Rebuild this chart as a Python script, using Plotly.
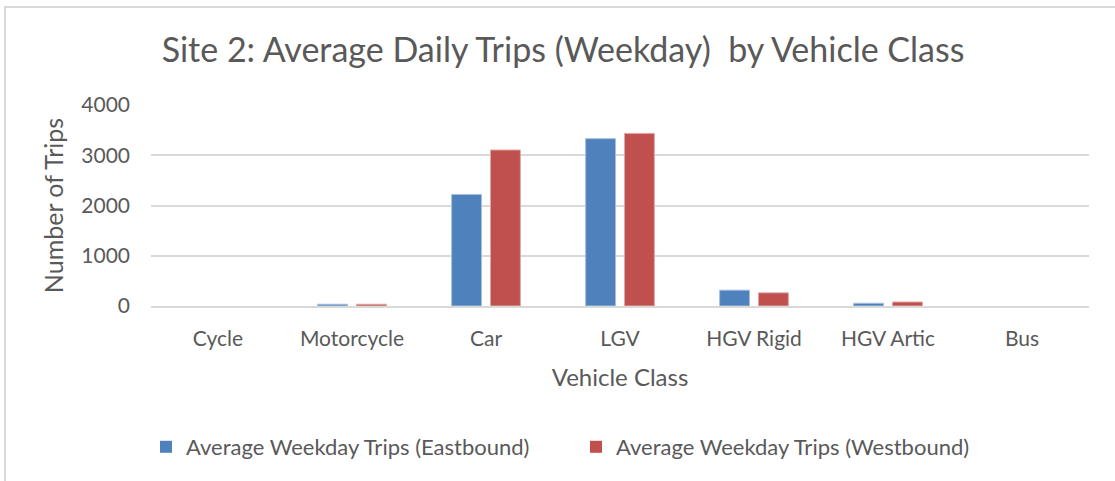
import plotly.graph_objects as go

categories = ["Cycle", "Motorcycle", "Car", "LGV", "HGV Rigid", "HGV Artic", "Bus"]
eastbound = [0, 35, 2220, 3330, 315, 55, 0]
westbound = [0, 35, 3105, 3435, 262, 80, 0]
series_names = ["Average Weekday Trips (Eastbound)", "Average Weekday Trips (Westbound)"]
y_ticks = [0, 1000, 2000, 3000, 4000]

W, H = 1115, 481
L, R, T, B = 151, 26, 105, 175
pw, ph = W - L - R, H - T - B

def px_x(p):
    return (p - L) / pw

def px_y(p):
    return (H - B - p) / ph

FONT = "Lato, Carlito, Calibri, sans-serif"
GREY = "#595959"

def outline(vals):
    return [0 if v == 0 else 1 for v in vals]

fig = go.Figure()
fig.add_trace(go.Bar(x=categories, y=eastbound, name=series_names[0],
                     marker=dict(color="#4F81BD",
                                 line=dict(color="#A7BFDE", width=outline(eastbound)))))
fig.add_trace(go.Bar(x=categories, y=westbound, name=series_names[1],
                     marker=dict(color="#C0504D",
                                 line=dict(color="#E0A8A6", width=outline(westbound)))))

fig.update_layout(
    width=W, height=H,
    margin=dict(l=L, r=R, t=T, b=B, autoexpand=False),
    paper_bgcolor="white", plot_bgcolor="white",
    barmode="group", bargap=0.42, bargroupgap=0.23,
    font=dict(family=FONT, color=GREY, size=18),
    title=dict(text="Site 2: Average Daily Trips (Weekday)  by Vehicle Class",
               x=0.505, xref="container", xanchor="center",
               y=1 - 50 / H, yref="container", yanchor="middle",
               font=dict(size=34, color=GREY, family=FONT)),
    legend=dict(orientation="h", x=px_x(576), xanchor="center",
                y=px_y(447), yanchor="middle",
                font=dict(size=22, color=GREY, family=FONT),
                itemwidth=30, traceorder="normal", entrywidth=385),
    showlegend=True,
)
fig.update_xaxes(
    showgrid=False, showline=True, linecolor="#D9D9D9", linewidth=2,
    ticks="", tickfont=dict(size=21, color=GREY), ticklabelstandoff=13,
    title=dict(text="Vehicle Class", font=dict(size=24, color=GREY), standoff=20),
)
fig.update_yaxes(
    range=[0, 4000], tickvals=y_ticks, showgrid=True, gridcolor="#D9D9D9", gridwidth=2,
    zeroline=False, showline=False, ticks="", tickfont=dict(size=21, color=GREY),
    ticklabelstandoff=20,
    title=dict(text="Number of Trips", font=dict(size=25, color=GREY), standoff=10),
)

# outer chart border (top and left edges visible)
fig.add_shape(type="line", xref="paper", yref="paper",
              x0=px_x(4), x1=px_x(1115), y0=px_y(7), y1=px_y(7),
              line=dict(color="#D9D9D9", width=2))
fig.add_shape(type="line", xref="paper", yref="paper",
              x0=px_x(5), x1=px_x(5), y0=px_y(7), y1=px_y(481),
              line=dict(color="#D9D9D9", width=2))

fig.write_html("out.html", config={"displayModeBar": False},
               post_script="document.body.style.margin='0';")
